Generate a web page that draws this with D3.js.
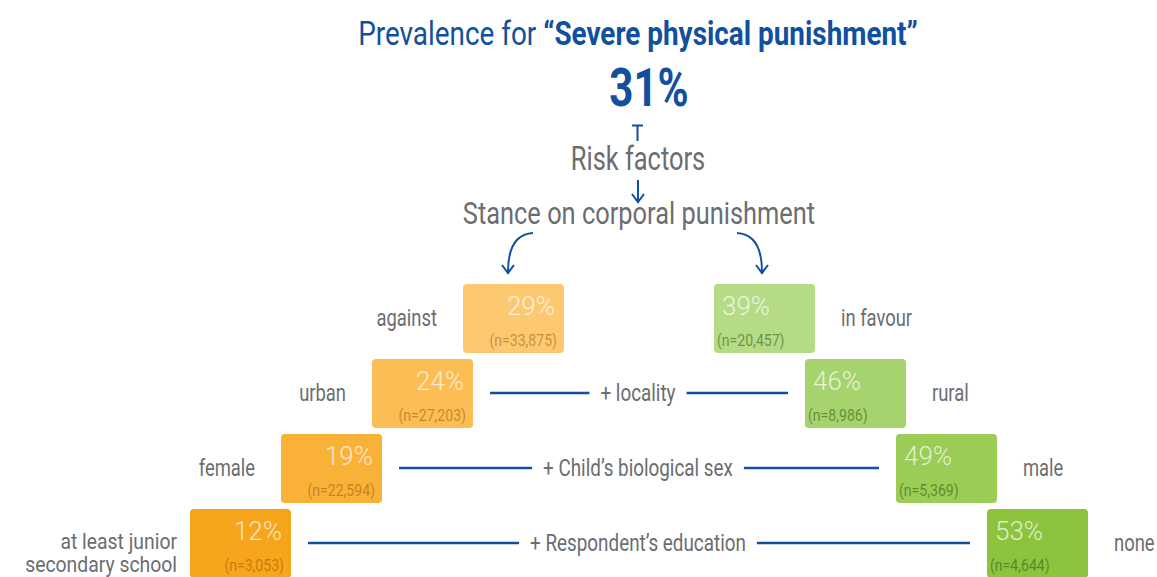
<!DOCTYPE html>
<html>
<head>
<meta charset="utf-8">
<script src="https://cdn.jsdelivr.net/npm/d3@7"></script>
<style>
  html, body { margin: 0; padding: 0; background: #ffffff; }
  svg { display: block; }
  text { font-family: Roboto, "Noto Sans", sans-serif; }
</style>
</head>
<body>
<div id="chart"></div>
<script>
const overall = 31;
const factorLabels = ["Stance on corporal punishment", "+ locality", "+ Child\u2019s biological sex", "+ Respondent\u2019s education"];
const leftLabels = ["against", "urban", "female", "at least junior|secondary school"];
const leftValues = [29, 24, 19, 12];
const leftN = [33875, 27203, 22594, 3053];
const rightLabels = ["in favour", "rural", "male", "none"];
const rightValues = [39, 46, 49, 53];
const rightN = [20457, 8986, 5369, 4644];

const width = 1157, height = 577;
const blue = "#114f9f";
const grey = "#6b6d70";
const squeeze = 0.82;   // fake a condensed face

const svg = d3.select("#chart").append("svg")
    .attr("width", width)
    .attr("height", height);

const levels = d3.range(leftValues.length);
const y = d3.scaleLinear().domain([0, 3]).range([284, 509]);
const xLeft = d3.scaleLinear().domain([0, 3]).range([463, 190]);
const xRight = d3.scaleLinear().domain([0, 3]).range([714, 987]);
const leftColor = d3.scaleLinear().domain([0, 3]).range(["#fdc970", "#f7a51c"]);
const rightColor = d3.scaleLinear().domain([0, 3]).range(["#b5db86", "#8cc43e"]);
const boxW = 101, boxH = 69;
const cx = 638;
const fmtN = d3.format(",");

// squash a text element horizontally around its anchor x
function condense(sel, ax, f = squeeze) {
    sel.attr("transform", `translate(${ax},0) scale(${f},1) translate(${-ax},0)`);
    return sel;
}

// ---- header ----
const title = svg.append("text")
    .attr("x", cx).attr("y", 45)
    .attr("text-anchor", "middle")
    .attr("font-size", 34)
    .attr("fill", blue);
title.append("tspan").text("Prevalence for ");
title.append("tspan").attr("font-weight", 700).text("\u201cSevere physical punishment\u201d");
condense(title, cx, 0.82);

condense(svg.append("text")
    .attr("x", 649).attr("y", 106)
    .attr("text-anchor", "middle")
    .attr("font-size", 54)
    .attr("font-weight", 700)
    .attr("fill", blue)
    .text(overall + "%"), 649, 0.78);

// T marker
svg.append("path")
    .attr("d", `M${cx - 6},125.5 H${cx + 5} M${cx - 0.5},125 V141`)
    .attr("stroke", blue).attr("stroke-width", 2).attr("fill", "none");

condense(svg.append("text")
    .attr("x", cx).attr("y", 170)
    .attr("text-anchor", "middle")
    .attr("font-size", 33)
    .attr("fill", grey)
    .text("Risk factors"), cx, 0.77);

function arrowHead(x, yy) {
    return `M${x - 6},${yy - 8} L${x},${yy} L${x + 6},${yy - 8}`;
}

svg.append("path")
    .attr("d", `M${cx},180 V201 ` + arrowHead(cx, 202))
    .attr("stroke", blue).attr("stroke-width", 2).attr("fill", "none");

condense(svg.append("text")
    .attr("x", cx + 1).attr("y", 224)
    .attr("text-anchor", "middle")
    .attr("font-size", 31)
    .attr("fill", grey)
    .text(factorLabels[0]), cx + 1, 0.82);

// curved arrows into first split
svg.append("path")
    .attr("d", "M533,233 C516,234 508,248 508,272 " + arrowHead(508, 273))
    .attr("stroke", blue).attr("stroke-width", 2).attr("fill", "none");
svg.append("path")
    .attr("d", "M737,233 C754,234 762,248 762,272 " + arrowHead(762, 273))
    .attr("stroke", blue).attr("stroke-width", 2).attr("fill", "none");

// ---- boxes ----
function drawSide(values, ns, labels, xScale, color, side) {
    const g = svg.append("g").attr("class", "side-" + side);
    const cell = g.selectAll("g.cell")
        .data(levels)
        .join("g")
        .attr("class", "cell");

    cell.append("rect")
        .attr("x", i => xScale(i))
        .attr("y", i => y(i))
        .attr("width", boxW)
        .attr("height", boxH)
        .attr("rx", 4)
        .attr("fill", i => color(i));

    const inX = i => side === "left" ? xScale(i) + boxW - 9 : xScale(i) + 8;
    const anchor = side === "left" ? "end" : "start";

    cell.append("text")
        .attr("x", inX)
        .attr("y", i => y(i) + 31)
        .attr("text-anchor", anchor)
        .attr("font-size", 26)
        .attr("font-weight", 300)
        .attr("fill", "rgba(255,255,255,0.72)")
        .text(i => values[i] + "%");

    const nX = i => side === "left" ? xScale(i) + boxW - 7 : xScale(i) + 3;
    cell.append("text")
        .attr("x", nX)
        .attr("y", i => y(i) + 62)
        .attr("text-anchor", anchor)
        .attr("font-size", 16)
        .attr("fill", side === "left" ? "rgba(140,85,10,0.5)" : "rgba(55,95,20,0.6)")
        .text(i => `(n=${fmtN(ns[i])})`)
        .each(function(i) { condense(d3.select(this), nX(i), 0.88); });

    // outer category labels
    cell.each(function(i) {
        const lines = labels[i].split("|");
        const multi = lines.length > 1;
        const gap = (side === "left" && multi) ? 13 : 26;
        const lx = side === "left" ? xScale(i) - gap : xScale(i) + boxW + gap;
        const midY = y(i) + boxH / 2 + 8;
        const t = d3.select(this).append("text")
            .attr("x", lx)
            .attr("y", multi ? midY - 2 : midY)
            .attr("text-anchor", side === "left" ? "end" : "start")
            .attr("font-size", multi ? 22 : 23)
            .attr("fill", grey);
        lines.forEach((ln, k) => {
            t.append("tspan").attr("x", lx).attr("dy", k === 0 ? 0 : 23).text(ln);
        });
        condense(t, lx, multi ? 0.88 : 0.8);
    });
}

drawSide(leftValues, leftN, leftLabels, xLeft, leftColor, "left");
drawSide(rightValues, rightN, rightLabels, xRight, rightColor, "right");

// ---- connector lines with factor names ----
levels.slice(1).forEach(i => {
    const ly = y(i) + boxH / 2 - 0.5;
    const t = svg.append("text")
        .attr("x", cx).attr("y", ly + 8)
        .attr("text-anchor", "middle")
        .attr("font-size", 23)
        .attr("fill", grey)
        .text(factorLabels[i]);
    condense(t, cx);
    const half = t.node().getComputedTextLength() * squeeze / 2;
    const x0 = xLeft(i) + boxW + 17;
    const x1 = xRight(i) - 17;
    svg.append("line")
        .attr("x1", x0).attr("x2", cx - half - 11)
        .attr("y1", ly).attr("y2", ly)
        .attr("stroke", blue).attr("stroke-width", 2.5);
    svg.append("line")
        .attr("x1", cx + half + 11).attr("x2", x1)
        .attr("y1", ly).attr("y2", ly)
        .attr("stroke", blue).attr("stroke-width", 2.5);
});
</script>
</body>
</html>
